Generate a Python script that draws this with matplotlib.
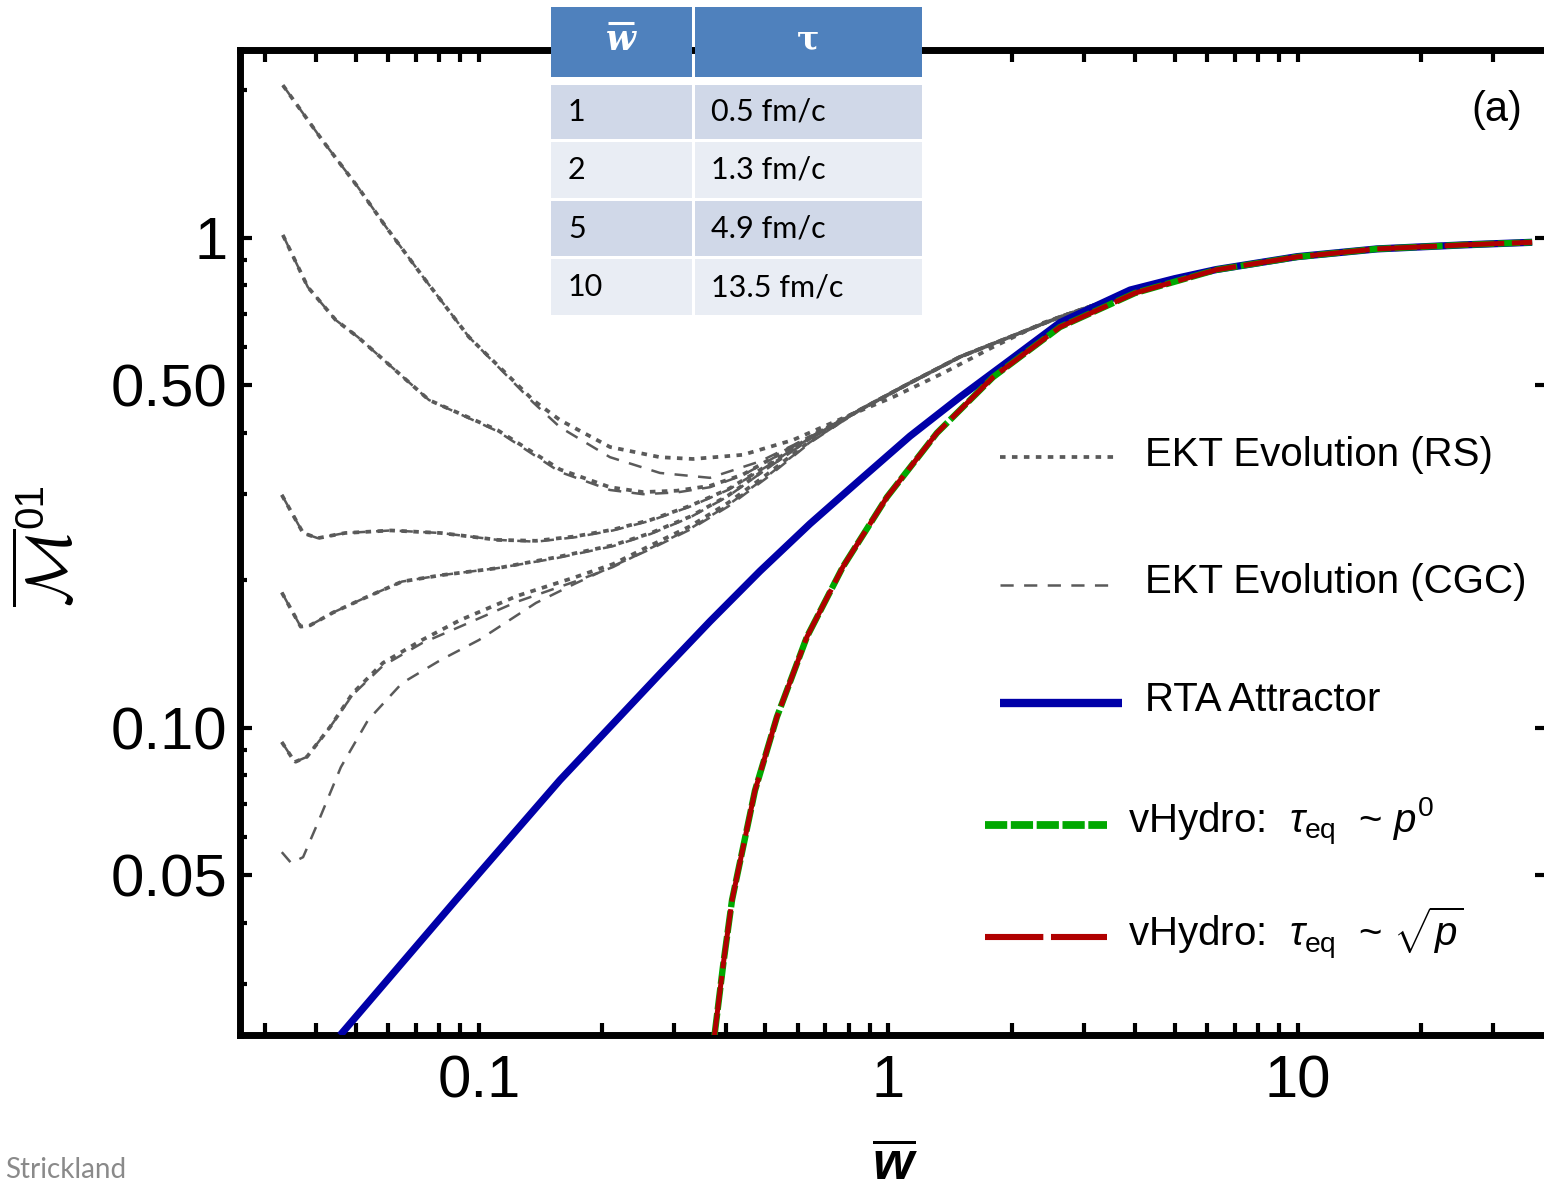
import matplotlib
matplotlib.use("Agg")
import matplotlib.pyplot as plt
from matplotlib.patches import Rectangle
from matplotlib.lines import Line2D
from matplotlib.ticker import FixedLocator, NullFormatter, FixedFormatter

# ---------------------------------------------------------------- data
# RTA attractor
rta_w = [0.0458, 0.0879, 0.1577, 0.2089, 0.2767, 0.3665, 0.4855, 0.643, 0.852, 1.128, 1.495,
         1.98, 2.623, 3.89, 5.0, 6.31, 9.95, 15.6, 25.3, 37.3]
rta_m = [0.0236, 0.0446, 0.0783, 0.1005, 0.1290, 0.1650, 0.2090, 0.2610, 0.3210, 0.394, 0.4736,
         0.5637, 0.672, 0.783, 0.826, 0.862, 0.916, 0.950, 0.968, 0.980]

# vHydro, tau_eq ~ sqrt(p)
vh_w = [0.376, 0.395, 0.415, 0.472, 0.534, 0.632, 0.774, 0.9915, 1.313, 1.80, 2.623, 4.0,
        6.31, 9.95, 15.6, 25.3, 37.3]
vh_m = [0.0236, 0.0330, 0.0446, 0.0745, 0.1053, 0.1534, 0.2133, 0.296, 0.400, 0.520, 0.658,
        0.772, 0.861, 0.915, 0.950, 0.968, 0.980]
# vHydro, tau_eq ~ p^0 (indistinguishable from the curve above)
vh0_w = list(vh_w)
vh0_m = list(vh_m)

# common late-time part of the EKT runs
tail_w = [0.852, 1.128, 1.495, 1.98, 2.623, 3.45, 4.0]
tail_m = [0.446, 0.506, 0.572, 0.628, 0.690, 0.747, 0.772]

# EKT runs, RS initial conditions
rs_runs = [
    ([0.0332, 0.0414, 0.0506, 0.0593, 0.0730, 0.0945, 0.1355, 0.1577, 0.2089, 0.2767, 0.3332,
      0.441, 0.5844, 0.774, 1.026, 1.359, 1.80, 2.384, 2.623, 3.45, 4.0],
     [2.05, 1.585, 1.271, 1.053, 0.833, 0.628, 0.467, 0.425, 0.3745, 0.357, 0.354,
      0.361, 0.387, 0.429, 0.4736, 0.530, 0.599, 0.671, 0.690, 0.747, 0.772]),
    ([0.0332, 0.0382, 0.0447, 0.0506, 0.0755, 0.1112, 0.1577, 0.2089, 0.2515, 0.3044, 0.3665,
      0.441, 0.643] + tail_w,
     [1.014, 0.794, 0.680, 0.628, 0.467, 0.405, 0.337, 0.310, 0.303, 0.305, 0.312,
      0.329, 0.393] + tail_m),
    ([0.0330, 0.0372, 0.0404, 0.0471, 0.0610, 0.0807, 0.1112, 0.1378, 0.1715, 0.2124, 0.2630,
      0.3276, 0.4056, 0.502, 0.643] + tail_w,
     [0.299, 0.250, 0.244, 0.250, 0.253, 0.250, 0.242, 0.241, 0.246, 0.254, 0.266,
      0.284, 0.307, 0.342, 0.392] + tail_m),
    ([0.0330, 0.0367, 0.0387, 0.0440, 0.0524, 0.0649, 0.0807, 0.1112, 0.1542, 0.2124, 0.2630,
      0.3276, 0.4056, 0.502, 0.643] + tail_w,
     [0.189, 0.161, 0.162, 0.172, 0.184, 0.199, 0.205, 0.212, 0.223, 0.236, 0.250,
      0.270, 0.298, 0.338, 0.390] + tail_m),
    ([0.0330, 0.0355, 0.0380, 0.0433, 0.0492, 0.0583, 0.0726, 0.0899, 0.1239, 0.1715, 0.2124,
      0.2630, 0.3276, 0.4056, 0.502, 0.643] + tail_w,
     [0.0936, 0.0852, 0.0873, 0.1005, 0.1178, 0.1358, 0.1512, 0.1660, 0.186, 0.203, 0.216,
      0.236, 0.258, 0.288, 0.328, 0.385] + tail_m),
]

# EKT runs, CGC initial conditions
cgc_runs = [
    ([0.0332, 0.0414, 0.0506, 0.0593, 0.0730, 0.0945, 0.1355, 0.1577, 0.2089, 0.2767, 0.3665,
      0.4855, 0.643] + tail_w,
     [2.05, 1.585, 1.271, 1.053, 0.833, 0.628, 0.462, 0.411, 0.357, 0.3315, 0.324,
      0.350, 0.3926] + tail_m),
    ([0.0332, 0.0382, 0.0447, 0.0506, 0.0755, 0.1112, 0.1577, 0.2089, 0.2515, 0.3044, 0.3665,
      0.441, 0.643] + tail_w,
     [1.014, 0.794, 0.680, 0.628, 0.467, 0.403, 0.333, 0.306, 0.300, 0.3025, 0.310,
      0.328, 0.392] + tail_m),
    ([0.0330, 0.0372, 0.0404, 0.0471, 0.0610, 0.0807, 0.1112, 0.1378, 0.1715, 0.2124, 0.2630,
      0.3276, 0.4056, 0.502, 0.643] + tail_w,
     [0.299, 0.250, 0.244, 0.250, 0.253, 0.250, 0.242, 0.240, 0.245, 0.253, 0.265,
      0.283, 0.306, 0.341, 0.391] + tail_m),
    ([0.0330, 0.0367, 0.0387, 0.0440, 0.0524, 0.0649, 0.0807, 0.1112, 0.1542, 0.2124, 0.2630,
      0.3276, 0.4056, 0.502, 0.643] + tail_w,
     [0.189, 0.161, 0.162, 0.172, 0.184, 0.199, 0.205, 0.212, 0.222, 0.235, 0.249,
      0.269, 0.297, 0.337, 0.389] + tail_m),
    ([0.0330, 0.0355, 0.0380, 0.0433, 0.0492, 0.0583, 0.0726, 0.0899, 0.1239, 0.1715, 0.2124,
      0.2630, 0.3276, 0.4056, 0.502, 0.643] + tail_w,
     [0.0936, 0.0852, 0.0873, 0.1005, 0.1170, 0.1340, 0.1490, 0.1610, 0.181, 0.199, 0.213,
      0.233, 0.255, 0.285, 0.325, 0.383] + tail_m),
    ([0.0330, 0.0348, 0.0372, 0.0404, 0.0460, 0.0536, 0.0649, 0.0807, 0.100, 0.1378, 0.1715,
      0.2124, 0.2630, 0.3276, 0.4056, 0.502, 0.643] + tail_w,
     [0.0558, 0.0530, 0.0545, 0.0640, 0.0832, 0.1038, 0.1235, 0.1377, 0.1512, 0.180, 0.197,
      0.214, 0.232, 0.254, 0.283, 0.323, 0.382] + tail_m),
]

# axis ticks
x_major = [0.1, 1, 10]
x_major_labels = ["0.1", "1", "10"]
x_minor = [0.03, 0.04, 0.05, 0.06, 0.07, 0.08, 0.09, 0.2, 0.3, 0.4, 0.5, 0.6, 0.7, 0.8, 0.9,
           2, 3, 4, 5, 6, 7, 8, 9, 20, 30]
y_major = [0.05, 0.1, 0.5, 1]
y_major_labels = ["0.05", "0.10", "0.50", "1"]
y_minor = [0.03, 0.04, 0.06, 0.07, 0.08, 0.09, 0.2, 0.3, 0.4, 0.6, 0.7, 0.8, 0.9, 2]

# inset table
table_header = ["w", "\u03c4"]
table_w = ["1", "2", "5", "10"]
table_tau = ["0.5 fm/c", "1.3 fm/c", "4.9 fm/c", "13.5 fm/c"]

legend_labels = ["EKT Evolution (RS)", "EKT Evolution (CGC)", "RTA Attractor",
                 r"vHydro:  $\tau_{\rm eq}$  ~ $p^0$", r"vHydro:  $\tau_{\rm eq}$  ~ $\sqrt{p}$"]

# ---------------------------------------------------------------- style
plt.rcParams["font.family"] = ["Liberation Sans", "DejaVu Sans"]
plt.rcParams["mathtext.fontset"] = "custom"
plt.rcParams["mathtext.rm"] = "Liberation Sans"
plt.rcParams["mathtext.it"] = "Liberation Sans:italic"
plt.rcParams["mathtext.bf"] = "Liberation Sans:italic:bold"
plt.rcParams["lines.scale_dashes"] = False
plt.rcParams["lines.dash_capstyle"] = "butt"
plt.rcParams["lines.solid_capstyle"] = "butt"

W, H, DPI = 1544, 1188, 100
GRAY = "#5a5a5a"
BLUE = "#0000a8"
GREEN = "#00a800"
RED = "#b00000"

DOT = dict(color=GRAY, lw=2.7, dashes=(4.0, 4.6))
DASH = dict(color=GRAY, lw=1.8, dashes=(9.5, 7.5))
GREEN_STYLE = dict(color=GREEN, lw=4.6, dashes=(16, 2.6))
RED_STYLE = dict(color=RED, lw=3.6, dashes=(43, 5.5))
BLUE_STYLE = dict(color=BLUE, lw=5.2)

fig = plt.figure(figsize=(W / DPI, H / DPI), dpi=DPI)
fig.patch.set_facecolor("white")

# axes frame; the right edge of the frame sits just outside the canvas
ax = fig.add_axes([240 / W, 1 - 1035 / H, 1307 / W, 985 / H])
ax.set_xscale("log")
ax.set_yscale("log")
ax.set_xlim(0.02609, 40.55)
ax.set_ylim(0.02363, 2.419)

for w, m in cgc_runs:
    ax.plot(w, m, zorder=2, **DASH)
for w, m in rs_runs:
    ax.plot(w, m, zorder=2, **DOT)

ax.plot(rta_w, rta_m, zorder=3, **BLUE_STYLE)
ax.plot(vh0_w, vh0_m, zorder=4, **GREEN_STYLE)
ax.plot(vh_w, vh_m, zorder=5, **RED_STYLE)

# ticks
for s in ax.spines.values():
    s.set_linewidth(5.0)
ax.xaxis.set_major_locator(FixedLocator(x_major))
ax.xaxis.set_major_formatter(FixedFormatter(x_major_labels))
ax.xaxis.set_minor_locator(FixedLocator(x_minor))
ax.xaxis.set_minor_formatter(NullFormatter())
ax.yaxis.set_major_locator(FixedLocator(y_major))
ax.yaxis.set_major_formatter(FixedFormatter(y_major_labels))
ax.yaxis.set_minor_locator(FixedLocator(y_minor))
ax.yaxis.set_minor_formatter(NullFormatter())

ax.tick_params(axis="x", which="both", direction="in", top=True, bottom=True,
               length=8.5, width=3.0, labelsize=43, pad=14)
ax.tick_params(axis="y", which="major", direction="in", left=True, right=True,
               length=8.5, width=3.0, labelsize=43, pad=9)
ax.tick_params(axis="y", which="minor", direction="in", left=True, right=False,
               length=4.8, width=3.0)

# axis labels
fig.text(895 / W, 1 - 1166 / H, r"$\mathbf{\overline{w}}$", fontsize=38,
         ha="center", va="center")
fig.text(53 / W, 1 - 568 / H, r"$\overline{\mathcal{M}}$", fontsize=46,
         rotation=90, ha="center", va="center", math_fontfamily="cm")
fig.text(31 / W, 1 - 505 / H, "01", fontsize=29, rotation=90,
         ha="center", va="center")

fig.text(1497 / W, 1 - 110 / H, "(a)", fontsize=30, ha="center", va="center")
fig.text(5 / W, 1 - 1170 / H, "Strickland", fontsize=20, color="#8a8a8a",
         ha="left", va="center", family=["Lato", "DejaVu Sans"])

# legend
def key_line(x0, x1, y, **kw):
    fig.add_artist(Line2D([x0 / W, x1 / W], [1 - y / H, 1 - y / H],
                          transform=fig.transFigure, **kw))

key_line(1000, 1118, 457, **DOT)
key_line(1000, 1118, 585, **DASH)
key_line(1000, 1122, 703, color=BLUE, lw=6.0)
key_line(985, 1107, 825, color=GREEN, lw=5.6, dashes=(16, 2.6))
key_line(985, 1107, 937, color=RED, lw=4.4, dashes=(42, 5.5))

label_pos = [(1145, 455), (1145, 582), (1145, 700), (1128, 822), (1128, 933)]
for (lx, ly), lab in zip(label_pos, legend_labels):
    fig.text(lx / W, 1 - ly / H, lab, fontsize=29, ha="left", va="center")

# inset table
HEAD = "#4f81bd"
ROW_COLORS = ["#d0d8e8", "#e9edf4", "#d0d8e8", "#e9edf4"]
col_x = [(551, 692), (695, 922)]
row_y = [(85, 139), (142, 198), (201, 256), (259, 315)]

def cell(x0, x1, y0, y1, color):
    fig.add_artist(Rectangle((x0 / W, 1 - y1 / H), (x1 - x0) / W, (y1 - y0) / H,
                             transform=fig.transFigure, facecolor=color,
                             edgecolor="none", zorder=5))

for (x0, x1) in col_x:
    cell(x0, x1, 7, 77, HEAD)
fig.text(621 / W, 1 - 40 / H, table_header[0], fontsize=25, color="white",
         ha="center", va="center", family="DejaVu Serif", style="italic",
         weight="bold", zorder=6)
fig.add_artist(Line2D([608 / W, 634 / W], [1 - 23 / H, 1 - 23 / H],
                      transform=fig.transFigure, color="white", lw=2.2, zorder=6))
fig.text(808 / W, 1 - 40 / H, table_header[1], fontsize=24, color="white",
         ha="center", va="center", family="DejaVu Serif", weight="bold", zorder=6)

for i, ((y0, y1), wv, tv) in enumerate(zip(row_y, table_w, table_tau)):
    for (x0, x1) in col_x:
        cell(x0, x1, y0, y1, ROW_COLORS[i])
    yc = 1 - (y0 + y1) / 2 / H
    fig.text(568 / W, yc, wv, fontsize=22, ha="left", va="center",
             family=["Lato", "DejaVu Sans"], zorder=6)
    fig.text(711 / W, yc, tv, fontsize=22, ha="left", va="center",
             family=["Lato", "DejaVu Sans"], zorder=6)

fig.savefig("out.png", dpi=DPI)
